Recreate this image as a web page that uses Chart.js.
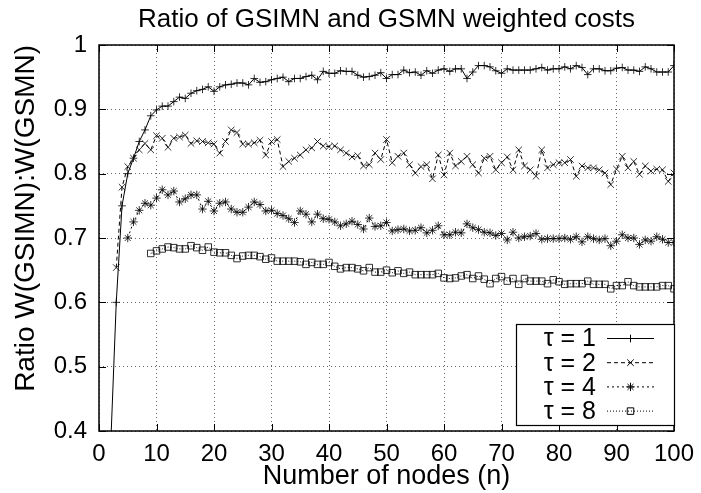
<!DOCTYPE html>
<html><head><meta charset="utf-8">
<script src="https://cdn.jsdelivr.net/npm/chart.js@4.4.0/dist/chart.umd.min.js"></script>
<style>html,body{margin:0;padding:0;background:#fff}#wrap{width:701px;height:493px}</style>
</head><body><div id="wrap"><canvas id="c" width="701" height="493"></canvas></div>
<script>
const nodes = [2,3,4,5,6,7,8,9,10,11,12,13,14,15,16,17,18,19,20,21,22,23,24,25,26,27,28,29,30,31,32,33,34,35,36,37,38,39,40,41,42,43,44,45,46,47,48,49,50,51,52,53,54,55,56,57,58,59,60,61,62,63,64,65,66,67,68,69,70,71,72,73,74,75,76,77,78,79,80,81,82,83,84,85,86,87,88,89,90,91,92,93,94,95,96,97,98,99,100];
const tau1 = [0.37,0.60,0.75,0.80,0.824,0.85,0.868,0.89,0.899,0.905,0.905,0.912,0.919,0.917,0.925,0.929,0.931,0.935,0.928,0.935,0.938,0.939,0.941,0.941,0.938,0.948,0.942,0.943,0.946,0.948,0.950,0.943,0.948,0.948,0.951,0.953,0.946,0.959,0.956,0.956,0.960,0.959,0.959,0.953,0.950,0.951,0.953,0.957,0.948,0.954,0.954,0.961,0.957,0.958,0.953,0.960,0.956,0.961,0.963,0.959,0.963,0.963,0.948,0.958,0.968,0.968,0.966,0.960,0.956,0.963,0.961,0.961,0.961,0.961,0.963,0.965,0.961,0.963,0.963,0.966,0.963,0.968,0.965,0.954,0.963,0.963,0.960,0.960,0.964,0.965,0.961,0.961,0.959,0.966,0.963,0.958,0.958,0.958,0.968];
const tau2 = [null,0.654,0.779,0.811,0.824,0.837,0.847,0.837,0.859,0.855,0.841,0.855,0.857,0.860,0.847,0.851,0.850,0.848,0.846,0.832,0.850,0.868,0.864,0.846,0.846,0.848,0.852,0.829,0.850,0.853,0.811,0.819,0.824,0.829,0.837,0.840,0.850,0.843,0.842,0.843,0.837,0.832,0.826,0.828,0.812,0.814,0.832,0.822,0.853,0.817,0.827,0.832,0.814,0.801,0.811,0.814,0.792,0.829,0.798,0.832,0.812,0.819,0.827,0.814,0.801,0.824,0.827,0.806,0.817,0.826,0.806,0.837,0.812,0.806,0.796,0.837,0.809,0.814,0.817,0.817,0.822,0.796,0.812,0.809,0.809,0.806,0.801,0.783,0.807,0.827,0.809,0.819,0.799,0.812,0.804,0.807,0.806,0.788,0.801];
const tau4 = [null,null,null,0.700,0.725,0.743,0.754,0.751,0.762,0.775,0.767,0.773,0.756,0.761,0.767,0.767,0.745,0.757,0.742,0.754,0.756,0.745,0.740,0.740,0.748,0.756,0.752,0.742,0.743,0.738,0.735,0.730,0.724,0.742,0.737,0.725,0.737,0.730,0.729,0.725,0.719,0.722,0.726,0.721,0.714,0.731,0.718,0.719,0.724,0.711,0.713,0.714,0.711,0.712,0.716,0.708,0.712,0.719,0.705,0.705,0.709,0.708,0.722,0.716,0.713,0.709,0.708,0.704,0.707,0.697,0.709,0.700,0.702,0.703,0.707,0.698,0.699,0.699,0.699,0.700,0.698,0.702,0.694,0.702,0.699,0.697,0.699,0.688,0.695,0.705,0.700,0.700,0.690,0.697,0.695,0.702,0.698,0.693,0.693];
const tau8 = [null,null,null,null,null,null,null,0.676,0.680,0.683,0.686,0.685,0.683,0.683,0.688,0.685,0.681,0.686,0.678,0.677,0.677,0.673,0.668,0.672,0.673,0.673,0.671,0.667,0.669,0.664,0.664,0.664,0.664,0.663,0.659,0.662,0.659,0.659,0.662,0.656,0.652,0.654,0.654,0.652,0.649,0.654,0.647,0.647,0.650,0.646,0.649,0.645,0.647,0.643,0.643,0.643,0.643,0.645,0.638,0.637,0.638,0.641,0.643,0.637,0.641,0.636,0.629,0.637,0.640,0.633,0.637,0.628,0.637,0.633,0.633,0.633,0.629,0.635,0.632,0.628,0.629,0.629,0.629,0.633,0.628,0.628,0.628,0.621,0.626,0.626,0.632,0.626,0.624,0.624,0.624,0.624,0.626,0.626,0.621];
const seriesLabels = ['\u03C4 = 1','\u03C4 = 2','\u03C4 = 4','\u03C4 = 8'];
const xTicks = [0,10,20,30,40,50,60,70,80,90,100];
const yTicks = [0.4,0.5,0.6,0.7,0.8,0.9,1];
const yTickLabels = ['0.4','0.5','0.6','0.7','0.8','0.9','1'];
const titleText = 'Ratio of GSIMN and GSMN weighted costs';
const xTitle = 'Number of nodes (n)';
const yTitle = 'Ratio W(GSIMN):W(GSMN)';

const FONT = "'Liberation Sans', Arial, Helvetica, sans-serif";
const series = [tau1, tau2, tau4, tau8];
const styles = [
  {pointStyle:'cross', dash:[], r:3.8},
  {pointStyle:'crossRot', dash:[4,3], r:4.6},
  {pointStyle:'star', dash:[2,3], r:4.2},
  {pointStyle:'rect', dash:[1,2], r:4.6}
];
const datasets = series.map((vals, i) => ({
  label: seriesLabels[i],
  data: nodes.map((n, k) => vals[k] == null ? null : {x: n, y: vals[k]}).filter(p => p),
  borderColor: '#000',
  borderWidth: 1,
  borderDash: styles[i].dash,
  pointStyle: styles[i].pointStyle,
  pointRadius: styles[i].r,
  pointBorderColor: 'rgba(0,0,0,0.8)',
  pointBorderWidth: 1,
  pointBackgroundColor: 'rgba(0,0,0,0)',
  tension: 0,
  fill: false
}));

const framePlugin = {
  id: 'frame',
  afterDatasetsDraw(chart) {
    const {ctx, chartArea: a, scales: {x, y}} = chart;
    ctx.save();
    ctx.strokeStyle = '#000';
    ctx.lineWidth = 1;
    ctx.setLineDash([]);
    ctx.beginPath();
    const L = 7;
    xTicks.forEach(v => {
      const px = Math.round(x.getPixelForValue(v)) + 0.5;
      ctx.moveTo(px, a.bottom); ctx.lineTo(px, a.bottom - L);
      ctx.moveTo(px, a.top); ctx.lineTo(px, a.top + L);
    });
    yTicks.forEach(v => {
      const py = Math.round(y.getPixelForValue(v)) + 0.5;
      ctx.moveTo(a.left, py); ctx.lineTo(a.left + L, py);
      ctx.moveTo(a.right, py); ctx.lineTo(a.right - L, py);
    });
    ctx.stroke();
    ctx.lineWidth = 1.5;
    ctx.strokeRect(a.left, a.top, a.right - a.left, a.bottom - a.top);
    ctx.restore();
  },
  afterDraw(chart) {
    const {ctx, chartArea: a} = chart;
    const bx = 516, by = 324, bw = a.right - 516, bh = 101;
    ctx.save();
    ctx.fillStyle = '#fff';
    ctx.fillRect(bx, by, bw, bh);
    ctx.strokeStyle = '#000';
    ctx.lineWidth = 1.2;
    ctx.strokeRect(bx + 0.5, by + 0.5, bw, bh);
    ctx.textAlign = 'right';
    ctx.textBaseline = 'middle';
    chart.data.datasets.forEach((ds, i) => {
      const cy = 338.5 + i * 24.2;
      ctx.font = '25px ' + FONT;
      ctx.fillStyle = '#000';
      ctx.fillText(ds.label, 596, cy + 1);
      ctx.strokeStyle = '#000';
      ctx.lineWidth = 1;
      ctx.setLineDash(styles[i].dash);
      ctx.beginPath();
      ctx.moveTo(607, cy); ctx.lineTo(654, cy);
      ctx.stroke();
      ctx.setLineDash([]);
      ctx.fillStyle = 'rgba(0,0,0,0)';
      Chart.helpers.drawPoint(ctx, {pointStyle: styles[i].pointStyle, radius: styles[i].r, borderWidth: 1}, 630.5, cy);
    });
    ctx.restore();
  }
};

new Chart(document.getElementById('c'), {
  type: 'line',
  data: { datasets },
  options: {
    responsive: false,
    animation: false,
    layout: { padding: { left: 0, right: 27, top: 0, bottom: 0 } },
    plugins: {
      legend: { display: false },
      tooltip: { enabled: false },
      title: {
        display: true, text: titleText, color: '#000', fullSize: false,
        font: { family: FONT, size: 26, weight: 'normal', lineHeight: 1.2 },
        padding: { top: 4, bottom: 9.8 }
      }
    },
    scales: {
      x: {
        type: 'linear', min: 0, max: 100,
        afterBuildTicks: s => { s.ticks = xTicks.map(v => ({value: v})); },
        afterFit: s => { s.height = 62; s.paddingRight = 20; s.paddingLeft = 0; },
        ticks: { color: '#000', font: { family: FONT, size: 24 }, padding: 9, maxRotation: 0, autoSkip: false },
        grid: { color: 'rgba(0,0,0,0.6)', lineWidth: 1, drawTicks: false },
        border: { display: false, dash: [1, 3] },
        title: { display: true, text: xTitle, color: '#000', font: { family: FONT, size: 27 }, padding: { top: 0, bottom: 0 } }
      },
      y: {
        type: 'linear', min: 0.4, max: 1,
        afterBuildTicks: s => { s.ticks = yTicks.map(v => ({value: v})); },
        afterFit: s => { s.width = 99; },
        ticks: { color: '#000', font: { family: FONT, size: 24 }, padding: 12,
          callback: (v) => { const i = yTicks.findIndex(t => Math.abs(t - v) < 1e-9); return i >= 0 ? yTickLabels[i] : ''; } },
        grid: { color: 'rgba(0,0,0,0.6)', lineWidth: 1, drawTicks: false },
        border: { display: false, dash: [1, 3] },
        title: { display: true, text: yTitle, color: '#000', align: 'end', font: { family: FONT, size: 28 }, padding: { top: 9, bottom: 0 } }
      }
    }
  },
  plugins: [framePlugin]
});
</script></body></html>
